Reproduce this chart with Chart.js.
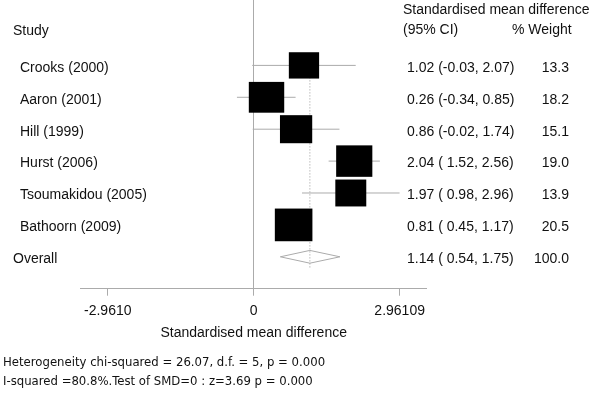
<!DOCTYPE html>
<html>
<head>
<meta charset="utf-8">
<script src="https://cdn.jsdelivr.net/npm/chart.js@4"></script>
<style>
  body { margin: 0; background: #fff; }
  #wrap { position: relative; width: 600px; height: 400px; }
  .note {
    position: absolute; left: 3px; color: #111; white-space: pre;
    font: 13px "Liberation Sans Narrow", "DejaVu Sans Condensed", sans-serif;
  }
</style>
</head>
<body>
<div id="wrap">
  <canvas id="forest"></canvas>
  <div class="note" style="top:354px">Heterogeneity chi-squared = 26.07, d.f. = 5, p = 0.000</div>
  <div class="note" style="top:373px">I-squared =80.8%.Test of SMD=0 : z=3.69 p = 0.000</div>
</div>
<script>
// study data
const studies = ["Crooks (2000)", "Aaron (2001)", "Hill (1999)", "Hurst (2006)", "Tsoumakidou (2005)", "Bathoorn (2009)"];
const smd = [1.02, 0.26, 0.86, 2.04, 1.97, 0.81];
const ciLow = [-0.03, -0.34, -0.02, 1.52, 0.98, 0.45];
const ciHigh = [2.07, 0.85, 1.74, 2.56, 2.96, 1.17];
const weights = [13.3, 18.2, 15.1, 19.0, 13.9, 20.5];

// pooled estimate
const overall = [1.14, 0.54, 1.75, 100.0]; // est, low, high, weight

const xTicks = [-2.961, 0, 2.96109];
const xTickLabels = ["-2.9610", "0", "2.96109"];

const grey = "#ababab";
const textColor = "#111";
const font = '"Liberation Sans", Arial, sans-serif';

document.addEventListener("DOMContentLoaded", function () {
  const overallRow = studies.length;

  // confidence interval lines, broken with null points
  const ciPoints = [];
  studies.forEach((s, i) => {
    ciPoints.push({ x: ciLow[i], y: i }, { x: ciHigh[i], y: i }, { x: null, y: null });
  });

  // diamond for the pooled result
  const dh = 0.2;
  const diamond = [
    { x: overall[1], y: overallRow },
    { x: overall[0], y: overallRow - dh },
    { x: overall[2], y: overallRow },
    { x: overall[0], y: overallRow + dh },
    { x: overall[1], y: overallRow },
  ];

  // dotted line through the pooled estimate
  const pooledLine = [
    { x: overall[0], y: 0 },
    { x: overall[0], y: overallRow + 0.35 },
  ];

  function fmtLow(v) {
    return v.toFixed(2).padStart(5, " ");
  }

  const forestPlugin = {
    id: "forest",
    afterDatasetsDraw(chart) {
      const ctx = chart.ctx;
      const xs = chart.scales.x;
      const ys = chart.scales.y;
      ctx.save();
      ctx.fillStyle = "#000";
      studies.forEach((s, i) => {
        const w = 8.3 * Math.sqrt(weights[i]);
        const h = w / 1.15;
        const cx = xs.getPixelForValue(smd[i]);
        const cy = ys.getPixelForValue(i);
        ctx.fillRect(cx - w / 2, cy - h / 2, w, h);
      });
      ctx.restore();
    },
    afterDraw(chart) {
      const ctx = chart.ctx;
      const ys = chart.scales.y;
      ctx.save();
      ctx.fillStyle = textColor;
      ctx.font = "14px " + font;
      ctx.textBaseline = "middle";

      // headers
      ctx.textAlign = "left";
      ctx.fillText("Study", 13, ys.getPixelForValue(-1.07));
      ctx.fillText("Standardised mean difference", 403, ys.getPixelForValue(-1.72));
      ctx.fillText("(95% CI)", 403, ys.getPixelForValue(-1.1));
      ctx.fillText("% Weight", 512, ys.getPixelForValue(-1.1));

      studies.forEach((s, i) => {
        const y = ys.getPixelForValue(i) + 2.5;
        ctx.textAlign = "left";
        ctx.fillText(s, 20, y);
        ctx.fillText(smd[i].toFixed(2) + " (" + fmtLow(ciLow[i]) + ", " + ciHigh[i].toFixed(2) + ")", 407, y);
        ctx.textAlign = "right";
        ctx.fillText(weights[i].toFixed(1), 569, y);
      });

      const yo = ys.getPixelForValue(overallRow) + 2.5;
      ctx.textAlign = "left";
      ctx.fillText("Overall", 13, yo);
      ctx.fillText(overall[0].toFixed(2) + " (" + fmtLow(overall[1]) + ", " + overall[2].toFixed(2) + ")", 407, yo);
      ctx.textAlign = "right";
      ctx.fillText(overall[3].toFixed(1), 569, yo);
      ctx.restore();
    },
  };

  const ctx = document.getElementById("forest").getContext("2d");
  new Chart(ctx, {
    type: "scatter",
    data: {
      datasets: [
        {
          label: "95% CI",
          data: ciPoints,
          showLine: true,
          spanGaps: false,
          borderColor: grey,
          borderWidth: 1,
          pointRadius: 0,
        },
        {
          label: "Pooled",
          data: pooledLine,
          showLine: true,
          borderColor: "#999",
          borderWidth: 1,
          borderDash: [1, 2],
          pointRadius: 0,
        },
        {
          label: "Overall",
          data: diamond,
          showLine: true,
          borderColor: grey,
          backgroundColor: "#fff",
          fill: false,
          borderWidth: 1,
          pointRadius: 0,
          tension: 0,
        },
      ],
    },
    options: {
      responsive: true,
      maintainAspectRatio: false,
      animation: false,
      events: [],
      layout: {
        padding: { left: 80.7, right: 173.3, top: 0, bottom: 59.5 },
      },
      plugins: {
        legend: { display: false },
        tooltip: { enabled: false },
      },
      scales: {
        x: {
          type: "linear",
          min: -3.51,
          max: 3.51,
          afterBuildTicks: (scale) => {
            scale.ticks = xTicks.map((v) => ({ value: v }));
          },
          ticks: {
            padding: 7,
            color: textColor,
            font: { family: font, size: 14 },
            maxRotation: 0,
            callback: (value, index) => xTickLabels[index],
          },
          grid: {
            display: true,
            drawOnChartArea: true,
            color: (c) => (c.tick && c.tick.value === 0 ? grey : "rgba(0,0,0,0)"),
            tickColor: grey,
            tickLength: 7,
          },
          border: { display: true, color: grey, width: 1 },
          title: {
            display: true,
            text: "Standardised mean difference",
            color: textColor,
            font: { family: font, size: 14, lineHeight: 1 },
            padding: { top: 0, bottom: 0 },
          },
        },
        y: {
          type: "linear",
          reverse: true,
          min: -2.05,
          max: 7,
          display: false,
        },
      },
    },
    plugins: [forestPlugin],
  });
});
</script>
</body>
</html>
